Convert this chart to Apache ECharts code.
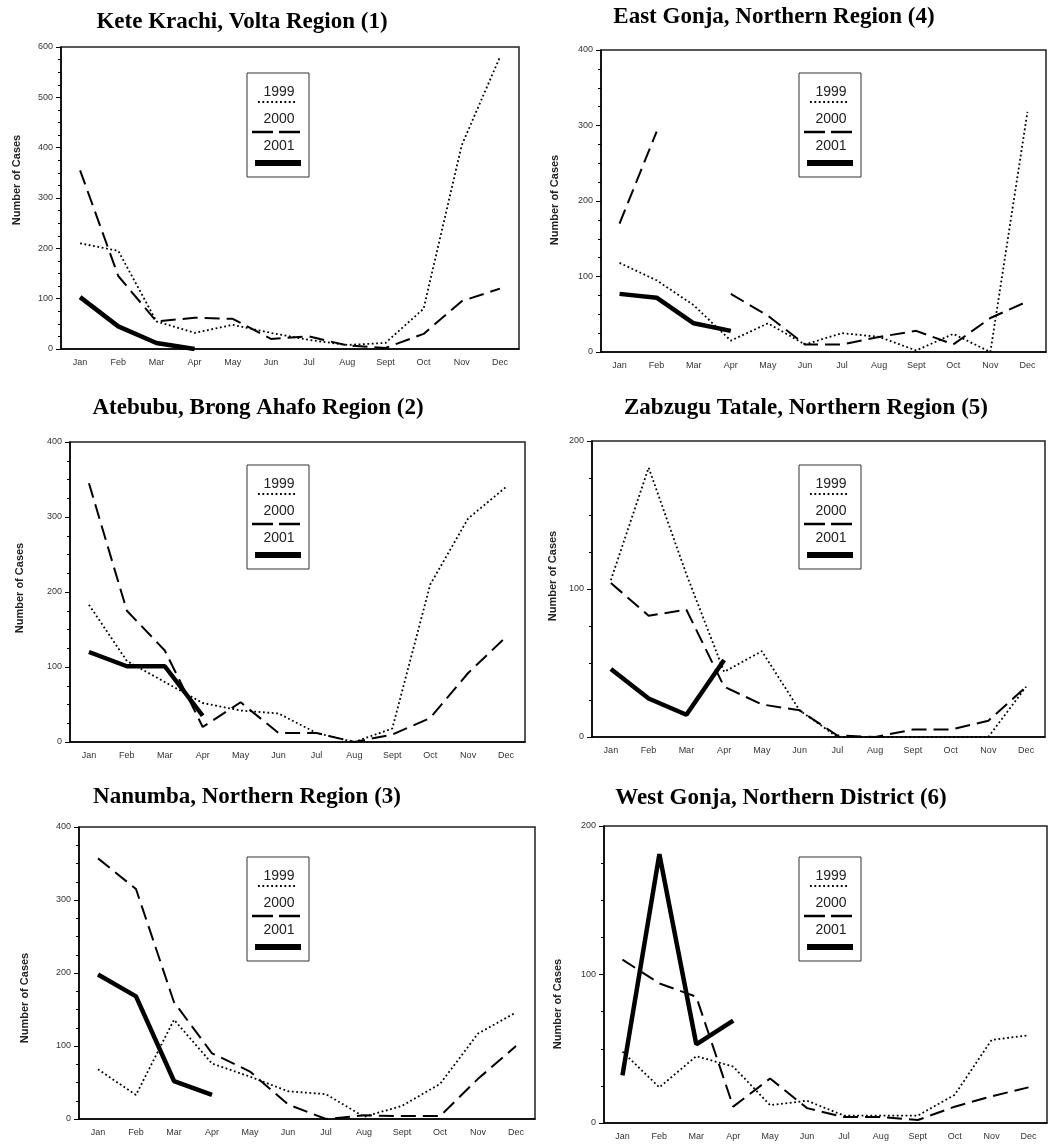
<!DOCTYPE html>
<html>
<head>
<meta charset="utf-8">
<script src="https://cdn.jsdelivr.net/npm/echarts@6/dist/echarts.min.js"></script>
<style>
  html, body { margin: 0; padding: 0; background: #fff; }
  #chart { width: 1055px; height: 1148px; }
</style>
</head>
<body>
<div id="chart"></div>
<script>
// months on the x axis
const months = ['Jan', 'Feb', 'Mar', 'Apr', 'May', 'Jun', 'Jul', 'Aug', 'Sept', 'Oct', 'Nov', 'Dec']
const years = ['1999', '2000', '2001']

// number of cases
const keteKrachi1999 = [210, 195, 55, 32, 48, 32, 18, 8, 12, 80, 405, 580]
const keteKrachi2000 = [355, 145, 55, 62, 60, 20, 25, 7, 2, 30, 95, 120]
const keteKrachi2001 = [103, 45, 12, 0]

const atebubu1999 = [183, 108, 80, 52, 42, 38, 12, 0, 18, 210, 298, 340]
const atebubu2000 = [345, 175, 122, 20, 53, 12, 12, 0, 10, 32, 92, 140]
const atebubu2001 = [120, 101, 101, 35]

const nanumba1999 = [68, 33, 136, 76, 58, 38, 34, 3, 18, 48, 117, 146]
const nanumba2000 = [357, 315, 160, 90, 65, 20, 0, 5, 4, 4, 55, 100]
const nanumba2001 = [198, 168, 52, 33]

const eastGonja1999 = [118, 95, 62, 15, 38, 10, 25, 20, 2, 24, 0, 318]
const eastGonja2000 = [170, 292, null, 77, 48, 10, 10, 20, 28, 10, 45, 67]
const eastGonja2001 = [77, 72, 38, 28]

const zabzugu1999 = [106, 182, 110, 44, 58, 18, 0, 0, 0, 0, 0, 34]
const zabzugu2000 = [104, 82, 86, 34, 22, 18, 1, 0, 5, 5, 11, 34]
const zabzugu2001 = [46, 26, 15, 52]

const westGonja1999 = [48, 24, 45, 38, 12, 15, 5, 5, 5, 19, 56, 59]
const westGonja2000 = [110, 94, 85, 11, 30, 10, 4, 4, 2, 11, 18, 24]
const westGonja2001 = [32, 181, 53, 69]

// y axis maximum per panel (page order: left, right, left, right ...)
const yMax = [600, 400, 400, 200, 400, 200]

const panels = [
  { title: 'Kete Krachi, Volta Region (1)', series: [keteKrachi1999, keteKrachi2000, keteKrachi2001] },
  { title: 'East Gonja, Northern Region (4)', series: [eastGonja1999, eastGonja2000, eastGonja2001] },
  { title: 'Atebubu, Brong Ahafo Region (2)', series: [atebubu1999, atebubu2000, atebubu2001] },
  { title: 'Zabzugu Tatale, Northern Region (5)', series: [zabzugu1999, zabzugu2000, zabzugu2001] },
  { title: 'Nanumba, Northern Region (3)', series: [nanumba1999, nanumba2000, nanumba2001] },
  { title: 'West Gonja, Northern District (6)', series: [westGonja1999, westGonja2000, westGonja2001] },
]

// where each panel sits on the page
const layout = [
  { left: 61, top: 47, width: 458, height: 302, tx: 242, ty: 22, nx: 17, ny: 180, lx: 247, ly: 73 },
  { left: 601, top: 50, width: 445, height: 302, tx: 774, ty: 17, nx: 555, ny: 200, lx: 799, ly: 73 },
  { left: 70, top: 442, width: 455, height: 300, tx: 258, ty: 408, nx: 20, ny: 588, lx: 247, ly: 465 },
  { left: 592, top: 441, width: 453, height: 296, tx: 806, ty: 408, nx: 553, ny: 576, lx: 799, ly: 465 },
  { left: 79, top: 827, width: 456, height: 292, tx: 247, ty: 797, nx: 25, ny: 998, lx: 247, ly: 857 },
  { left: 604, top: 826, width: 443, height: 297, tx: 781, ty: 798, nx: 558, ny: 1004, lx: 799, ly: 857 },
]

// line looks: dotted, dashed, thick solid
const lineStyles = [
  { color: '#000', width: 1.8, type: [1.8, 2.6] },
  { color: '#000', width: 2, type: [15, 7] },
  { color: '#000', width: 4.5, type: 'solid' },
]

let grid = []
let xAxis = []
let yAxis = []
let series = []
let graphic = []

panels.forEach((p, i) => {
  const l = layout[i]
  grid.push({
    left: l.left, top: l.top, width: l.width, height: l.height,
    show: true, borderColor: '#222', borderWidth: 1.5, backgroundColor: 'transparent',
  })
  xAxis.push({
    type: 'category',
    gridIndex: i,
    data: months,
    boundaryGap: true,
    axisLine: { lineStyle: { color: '#000', width: 1.5 } },
    axisTick: { alignWithLabel: true, length: 5, lineStyle: { color: '#000' } },
    axisLabel: { fontSize: 9, color: '#333', fontFamily: 'Liberation Sans', margin: 9 },
  })
  yAxis.push({
    type: 'value',
    gridIndex: i,
    min: 0,
    max: yMax[i],
    interval: 100,
    axisLine: { show: true, lineStyle: { color: '#000', width: 1.5 } },
    axisTick: { show: true, length: 5, lineStyle: { color: '#000' } },
    minorTick: { show: true, splitNumber: 4, length: 3, lineStyle: { color: '#000' } },
    splitLine: { show: false },
    axisLabel: { fontSize: 9, color: '#333', fontFamily: 'Liberation Sans', margin: 8 },
  })
  p.series.forEach((d, k) => {
    series.push({
      name: years[k],
      type: 'line',
      xAxisIndex: i,
      yAxisIndex: i,
      data: d,
      symbol: 'none',
      connectNulls: false,
      lineStyle: lineStyles[k],
      z: 3 - k,
    })
  })

  // title
  graphic.push({
    type: 'text',
    x: l.tx, y: l.ty,
    style: {
      text: p.title, align: 'center', verticalAlign: 'middle',
      font: 'bold 23px "Liberation Serif"', fill: '#000',
    },
  })
  // y axis name
  graphic.push({
    type: 'text',
    x: l.nx, y: l.ny, rotation: Math.PI / 2,
    style: {
      text: 'Number of Cases', align: 'center', verticalAlign: 'middle',
      font: 'bold 11px "Liberation Sans"', fill: '#222',
    },
  })
  // legend box
  graphic.push({
    type: 'group',
    x: l.lx, y: l.ly,
    children: [
      { type: 'rect', shape: { x: 0, y: 0, width: 62, height: 104 }, style: { fill: '#fff', stroke: '#333', lineWidth: 1 } },
      { type: 'text', x: 32, y: 19, style: { text: years[0], align: 'center', verticalAlign: 'middle', font: '14px "Liberation Sans"', fill: '#222' } },
      { type: 'line', shape: { x1: 11, y1: 29, x2: 49, y2: 29 }, style: { stroke: '#000', lineWidth: 1.8, lineDash: [1.8, 2.6] } },
      { type: 'text', x: 32, y: 46, style: { text: years[1], align: 'center', verticalAlign: 'middle', font: '14px "Liberation Sans"', fill: '#222' } },
      { type: 'line', shape: { x1: 5, y1: 59, x2: 26, y2: 59 }, style: { stroke: '#000', lineWidth: 2.5 } },
      { type: 'line', shape: { x1: 32, y1: 59, x2: 53, y2: 59 }, style: { stroke: '#000', lineWidth: 2.5 } },
      { type: 'text', x: 32, y: 73, style: { text: years[2], align: 'center', verticalAlign: 'middle', font: '14px "Liberation Sans"', fill: '#222' } },
      { type: 'rect', shape: { x: 8, y: 87, width: 46, height: 6 }, style: { fill: '#000' } },
    ],
    z: 10,
  })
})

let myChart = echarts.init(document.getElementById('chart'))
myChart.setOption({
  animation: false,
  backgroundColor: '#fff',
  grid: grid,
  xAxis: xAxis,
  yAxis: yAxis,
  series: series,
  graphic: graphic,
})
</script>
</body>
</html>
